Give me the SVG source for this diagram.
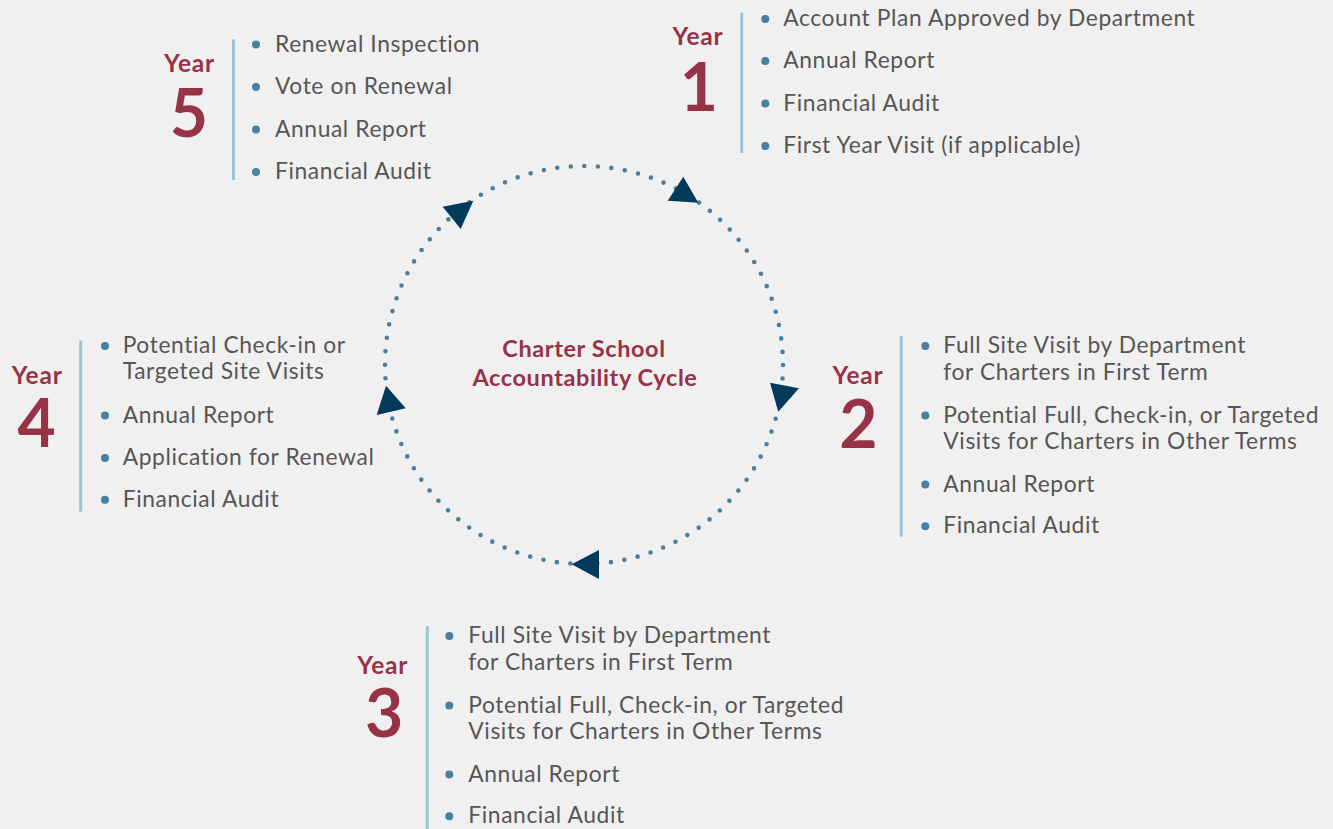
<svg xmlns="http://www.w3.org/2000/svg" width="1333" height="829" viewBox="0 0 1333 829">
  <style>
    text { font-family: Lato, "Noto Sans", sans-serif; font-variant-ligatures: none; }
    .item { font-size: 22.8px; letter-spacing: 0.6px; fill: #565656; }
    .yr { font-weight: 700; font-size: 24.5px; letter-spacing: 0.8px; fill: #983246; text-anchor: middle; }
    .num { font-weight: 700; font-size: 66px; fill: #983246; text-anchor: middle; }
    .title { font-weight: 700; font-size: 23.5px; letter-spacing: 0.6px; fill: #983246; text-anchor: middle; }
    .bar { stroke: #9dc3d7; stroke-width: 3; }
    .bul { fill: #4a7fa0; }
    .tri { fill: #033a5b; }
  </style>
  <rect width="1333" height="829" fill="#f0f0f0"/>

  <!-- dotted cycle with direction arrows -->
  <g id="connectors">
    <circle cx="584" cy="365" r="199" fill="none" stroke="#4a7fa0" stroke-width="4.6" stroke-linecap="round" stroke-dasharray="0 13.59"/>
    <polygon class="tri" points="698.3,202.7 683.3,176.7 667.7,200.7"/>
    <polygon class="tri" points="778.3,411.7 770,382.7 799,388.3"/>
    <polygon class="tri" points="571.7,564.3 599,550 599,579"/>
    <polygon class="tri" points="386,385.7 376.7,415 405.7,408.3"/>
    <polygon class="tri" points="473.3,200.7 442.7,206.7 460.7,229"/>
  </g>

  <g id="center-title">
    <text class="title" x="584" y="357.3">Charter School</text>
    <text class="title" x="585" y="385.7">Accountability Cycle</text>
  </g>

  <!-- Year 1 -->
  <g id="year1">
    <text class="yr" x="698" y="45">Year</text>
    <text class="num" x="699" y="110.7">1</text>
    <line class="bar" x1="741.7" y1="12.7" x2="741.7" y2="153"/>
    <circle class="bul" cx="765.3" cy="19" r="4"/>
    <text class="item" x="783.3" y="26">Account Plan Approved by Department</text>
    <circle class="bul" cx="765.3" cy="61" r="4"/>
    <text class="item" x="783.3" y="68">Annual Report</text>
    <circle class="bul" cx="765.3" cy="103.5" r="4"/>
    <text class="item" x="783.3" y="110.5">Financial Audit</text>
    <circle class="bul" cx="765.3" cy="146" r="4"/>
    <text class="item" x="783.3" y="153">First Year Visit (if applicable)</text>
  </g>

  <!-- Year 2 -->
  <g id="year2">
    <text class="yr" x="858" y="384">Year</text>
    <text class="num" x="858.3" y="448.3">2</text>
    <line class="bar" x1="901.3" y1="336" x2="901.3" y2="536.7"/>
    <circle class="bul" cx="925.3" cy="346" r="4"/>
    <text class="item" x="943.3" y="353.3">Full Site Visit by Department</text>
    <text class="item" x="943.3" y="380">for Charters in First Term</text>
    <circle class="bul" cx="925.3" cy="415.5" r="4"/>
    <text class="item" x="943.3" y="422.7">Potential Full, Check-in, or Targeted</text>
    <text class="item" x="943.3" y="449">Visits for Charters in Other Terms</text>
    <circle class="bul" cx="925.3" cy="484.5" r="4"/>
    <text class="item" x="943.3" y="491.7">Annual Report</text>
    <circle class="bul" cx="925.3" cy="526.3" r="4"/>
    <text class="item" x="943.3" y="533.3">Financial Audit</text>
  </g>

  <!-- Year 3 -->
  <g id="year3">
    <text class="yr" x="382.8" y="674">Year</text>
    <text class="num" x="384.2" y="737.3">3</text>
    <line class="bar" x1="427.3" y1="626" x2="427.3" y2="829"/>
    <circle class="bul" cx="449.3" cy="636" r="4"/>
    <text class="item" x="468.3" y="643.3">Full Site Visit by Department</text>
    <text class="item" x="468.3" y="670">for Charters in First Term</text>
    <circle class="bul" cx="449.3" cy="705.5" r="4"/>
    <text class="item" x="468.3" y="712.7">Potential Full, Check-in, or Targeted</text>
    <text class="item" x="468.3" y="739">Visits for Charters in Other Terms</text>
    <circle class="bul" cx="449.3" cy="774.5" r="4"/>
    <text class="item" x="468.3" y="781.7">Annual Report</text>
    <circle class="bul" cx="449.3" cy="816.3" r="4"/>
    <text class="item" x="468.3" y="823.3">Financial Audit</text>
  </g>

  <!-- Year 4 -->
  <g id="year4">
    <text class="yr" x="37.2" y="384">Year</text>
    <text class="num" x="36.7" y="447.3">4</text>
    <line class="bar" x1="80.7" y1="340.7" x2="80.7" y2="511.7"/>
    <circle class="bul" cx="105" cy="346" r="4"/>
    <text class="item" x="122.7" y="353.3">Potential Check-in or</text>
    <text class="item" x="122.7" y="379.3">Targeted Site Visits</text>
    <circle class="bul" cx="105" cy="415.5" r="4"/>
    <text class="item" x="122.7" y="422.7">Annual Report</text>
    <circle class="bul" cx="105" cy="458" r="4"/>
    <text class="item" x="122.7" y="465">Application for Renewal</text>
    <circle class="bul" cx="105" cy="499.7" r="4"/>
    <text class="item" x="122.7" y="506.7">Financial Audit</text>
  </g>

  <!-- Year 5 -->
  <g id="year5">
    <text class="yr" x="189.5" y="71.7">Year</text>
    <text class="num" x="189" y="137.3">5</text>
    <line class="bar" x1="233.5" y1="39.3" x2="233.5" y2="180"/>
    <circle class="bul" cx="256" cy="44.5" r="4"/>
    <text class="item" x="275" y="51.5">Renewal Inspection</text>
    <circle class="bul" cx="256" cy="87" r="4"/>
    <text class="item" x="275" y="94">Vote on Renewal</text>
    <circle class="bul" cx="256" cy="129.5" r="4"/>
    <text class="item" x="275" y="136.5">Annual Report</text>
    <circle class="bul" cx="256" cy="172" r="4"/>
    <text class="item" x="275" y="179">Financial Audit</text>
  </g>
</svg>
